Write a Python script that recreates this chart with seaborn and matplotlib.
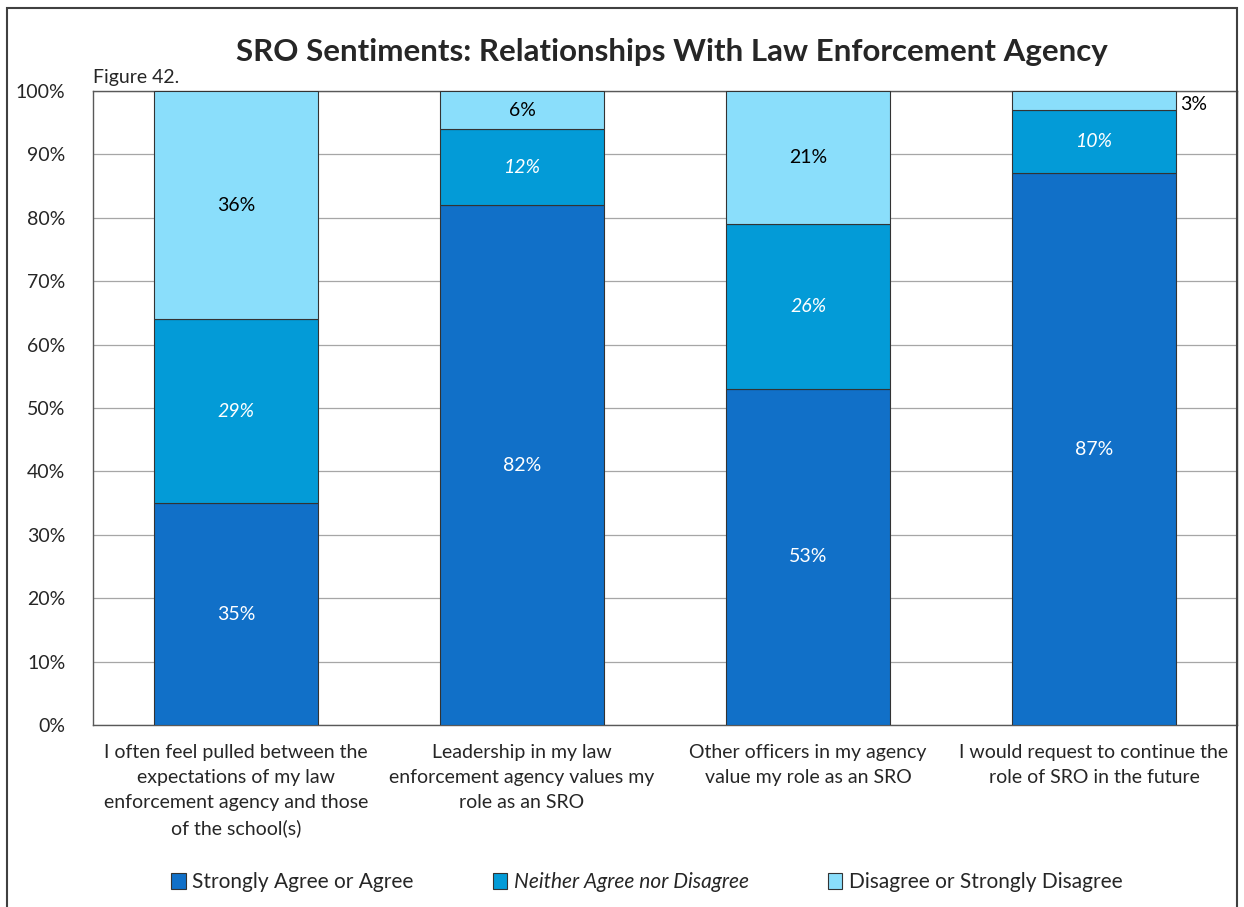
import matplotlib
matplotlib.use("Agg")
import matplotlib.pyplot as plt
import seaborn as sns
import pandas as pd
from matplotlib.patches import Rectangle

# chart data
statements = [
    "I often feel pulled between the\nexpectations of my law\nenforcement agency and those\nof the school(s)",
    "Leadership in my law\nenforcement agency values my\nrole as an SRO",
    "Other officers in my agency\nvalue my role as an SRO",
    "I would request to continue the\nrole of SRO in the future",
]
agree = [35, 82, 53, 87]
neither = [29, 12, 26, 10]
disagree = [36, 6, 21, 3]
series_names = ["Strongly Agree or Agree", "Neither Agree nor Disagree",
                "Disagree or Strongly Disagree"]
colors = ["#1170C8", "#039BD7", "#8ADEFB"]

sns.set_style("white")
plt.rcParams["font.family"] = ["Lato", "DejaVu Sans"]

fig = plt.figure(figsize=(12.44, 9.07), dpi=100)
ax = fig.add_axes([93 / 1244, 1 - 725 / 907, (1237 - 93) / 1244, (725 - 91) / 907])

df = pd.DataFrame({"statement": statements, "agree": agree,
                   "neither": neither, "disagree": disagree})
bottom1 = df["agree"]
bottom2 = df["agree"] + df["neither"]

bar_kw = dict(width=0.573, edgecolor="#333333", linewidth=0.8, saturation=1,
              ax=ax, zorder=3)
sns.barplot(data=df, x="statement", y="agree", color=colors[0], **bar_kw)
sns.barplot(data=df, x="statement", y="neither", bottom=bottom1, color=colors[1], **bar_kw)
sns.barplot(data=df, x="statement", y="disagree", bottom=bottom2, color=colors[2], **bar_kw)

# data labels
for i in range(len(statements)):
    ax.text(i, agree[i] / 2, f"{agree[i]}%", ha="center", va="center",
            color="white", fontsize=14, zorder=4)
    ax.text(i, agree[i] + neither[i] / 2, f"{neither[i]}%", ha="center", va="center",
            color="white", fontsize=14, style="italic", zorder=4)
    top_mid = agree[i] + neither[i] + disagree[i] / 2
    if disagree[i] < 5:
        ax.text(i + 0.3, top_mid - 0.7, f"{disagree[i]}%", ha="left", va="center",
                color="black", fontsize=14, zorder=4)
    else:
        ax.text(i, top_mid, f"{disagree[i]}%", ha="center", va="center",
                color="black", fontsize=14, zorder=4)

ax.set_ylim(0, 100)
ax.set_xlim(-0.5, 3.5)
ax.set_yticks(range(0, 101, 10))
ax.set_yticklabels([f"{v}%" for v in range(0, 101, 10)], fontsize=14)
for lbl in ax.get_xticklabels():
    lbl.set_linespacing(1.55)
ax.tick_params(axis="x", labelsize=14, length=0, pad=14)
ax.tick_params(axis="y", length=0, pad=20)
ax.yaxis.grid(True, color="#A6A6A6", linewidth=0.9, zorder=0)
ax.set_axisbelow(True)
ax.set_xlabel("")
ax.set_ylabel("")
for s in ax.spines.values():
    s.set_visible(True)
    s.set_color("#595959")
    s.set_linewidth(1.0)

fig.text(0.540, 1 - 52 / 907, "SRO Sentiments: Relationships With Law Enforcement Agency",
         ha="center", va="center", fontsize=22.5, fontweight="bold")
fig.text(93 / 1244, 1 - 77 / 907, "Figure 42.", ha="left", va="center", fontsize=14)

# legend
handles = [Rectangle((0, 0), 1, 1, facecolor=c, edgecolor="#333333", linewidth=0.8)
           for c in colors]
leg = fig.legend(handles, series_names, loc="center", ncol=3,
                 bbox_to_anchor=(0.52, 1 - 882 / 907), frameon=False, fontsize=15,
                 handlelength=0.7, handleheight=0.8, handletextpad=0.3, columnspacing=3.8)
leg.get_texts()[1].set_style("italic")

# outer chart border
fig.patches.append(Rectangle((7 / 1244, -0.05), (1237 - 7) / 1244, 1.05 - 8 / 907,
                             transform=fig.transFigure, fill=False,
                             edgecolor="#404040", linewidth=1.5))

fig.savefig("out.png", dpi=100)
